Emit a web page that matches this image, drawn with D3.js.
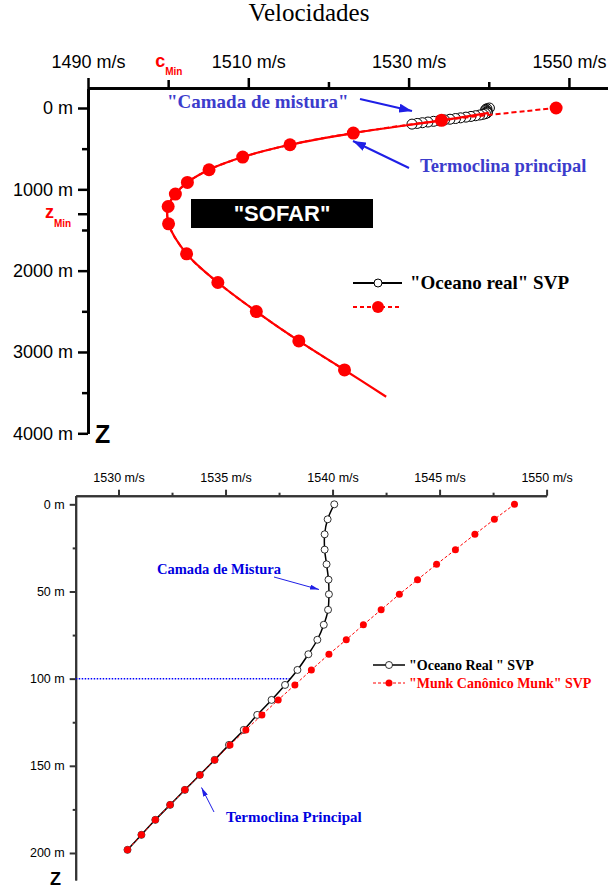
<!DOCTYPE html>
<html lang="pt">
<head>
<meta charset="utf-8">
<script src="https://d3js.org/d3.v7.min.js"></script>
<title>Velocidades</title>
<style>
  body { margin: 0; background: #fff; }
  .ax text { font-family: "Liberation Sans", Arial, sans-serif; fill: #000; }
</style>
</head>
<body>
<script>

// ---- top chart (0 - 4000 m) ----
var topMunkDepth = [0, 152, 308, 452, 603, 759, 915, 1058, 1211, 1424, 1793, 2146, 2503, 2864, 3221];
var topMunkSpeed = [1548.4, 1534.1, 1523.1, 1515.2, 1509.3, 1505.1, 1502.4, 1500.9, 1500.0, 1500.05, 1502.3, 1506.2, 1511.0, 1516.3, 1522.0];
// solid red profile
var munkCurveDepth = [60, 152, 308, 452, 603, 759, 915, 1058, 1211, 1424, 1793, 2146, 2503, 2864, 3221, 3550];
var munkCurveSpeed = [1540.0, 1534.1, 1523.1, 1515.2, 1509.3, 1505.1, 1502.4, 1500.9, 1500.0, 1500.05, 1502.3, 1506.2, 1511.0, 1516.3, 1522.0, 1527.2];

var topSpeedTicks = [1490, 1510, 1530, 1550];
var topSpeedMinor = [1520, 1540];
var topDepthTicks = [0, 1000, 2000, 3000, 4000];
var topDepthMinor = [500, 1500, 2500, 3500];
var cMin = 1500;
var zMin = 1300;

// ---- bottom chart (0 - 200 m) ----
var shallowDepth = [0, 8.6, 17.2, 26, 34.4, 43.2, 51.6, 60.5, 69.1, 77.7, 86, 95, 103.6, 112.2, 120.8, 129.4, 138, 146.6, 155.2, 163.8, 172.4, 181, 189.6, 198.2];
var realSpeed = [1540.08, 1539.77, 1539.63, 1539.63, 1539.72, 1539.81, 1539.83, 1539.79, 1539.59, 1539.29, 1538.87, 1538.36, 1537.78, 1537.15, 1536.48, 1535.85, 1535.16, 1534.49, 1533.80, 1533.10, 1532.41, 1531.72, 1531.07, 1530.42];
var munkSpeed = [1548.5, 1547.56, 1546.65, 1545.74, 1544.86, 1543.97, 1543.12, 1542.27, 1541.44, 1540.64, 1539.83, 1539.01, 1538.24, 1537.46, 1536.70, 1535.95, 1535.21, 1534.49, 1533.80, 1533.10, 1532.41, 1531.72, 1531.07, 1530.42];

var botSpeedTicks = [1530, 1535, 1540, 1545, 1550];
var botSpeedMinor = [1532.5, 1537.5, 1542.5, 1547.5];
var botDepthTicks = [0, 50, 100, 150, 200];
var botDepthMinor = [25, 75, 125, 175];
var mixedLayerDepth = 100;
var mixedLayerSpeed = 1538.0;

var svg = d3.select("body").append("svg")
  .attr("width", 608)
  .attr("height", 891);

var defs = svg.append("defs");
function arrowHead(id, color, len, wid) {
  defs.append("marker")
    .attr("id", id)
    .attr("markerUnits", "userSpaceOnUse")
    .attr("markerWidth", len).attr("markerHeight", wid)
    .attr("refX", len).attr("refY", wid / 2)
    .attr("orient", "auto")
    .append("path")
    .attr("d", "M0,0L" + len + "," + (wid / 2) + "L0," + wid + "Z")
    .attr("fill", color);
}
arrowHead("arrBig", "#1f1fe6", 13, 9);
arrowHead("arrSmall", "#1f1fe6", 9, 5);

var serif = "'Liberation Serif', 'Times New Roman', serif";
var sans = "'Liberation Sans', Arial, sans-serif";

svg.append("text")
  .attr("x", 309).attr("y", 21)
  .attr("text-anchor", "middle")
  .attr("font-family", serif)
  .attr("font-size", 25)
  .text("Velocidades");

// ================= TOP CHART =================
var x1 = d3.scaleLinear().domain([1490, 1555]).range([88, 609]);
var y1 = d3.scaleLinear().domain([-246, 4000]).range([88, 433.3]);

function styleAxis(g, w, color) {
  g.attr("class", "ax");
  g.select(".domain").attr("stroke", color).attr("stroke-width", w);
  g.selectAll(".tick line").attr("stroke", color).attr("stroke-width", w);
}

var gx1 = svg.append("g").attr("transform", "translate(0,88)")
  .call(d3.axisTop(x1).tickValues(topSpeedTicks).tickSize(10).tickSizeOuter(0)
    .tickPadding(10).tickFormat(function (d) { return d + " m/s"; }));
styleAxis(gx1, 2.5, "#000");
gx1.selectAll("text").attr("font-size", 18);

var gx1m = svg.append("g").attr("transform", "translate(0,88)")
  .call(d3.axisTop(x1).tickValues(topSpeedMinor).tickSize(6).tickSizeOuter(0).tickFormat(""));
styleAxis(gx1m, 2.5, "#000");
var gx1c = svg.append("g").attr("transform", "translate(0,88)")
  .call(d3.axisTop(x1).tickValues([cMin]).tickSize(8).tickSizeOuter(0).tickFormat(""));
styleAxis(gx1c, 2.5, "#000");

var gy1 = svg.append("g").attr("transform", "translate(88,0)")
  .call(d3.axisLeft(y1).tickValues(topDepthTicks).tickSize(10).tickSizeOuter(0)
    .tickPadding(5).tickFormat(function (d) { return d + " m"; }));
styleAxis(gy1, 2.5, "#000");
gy1.selectAll("text").attr("font-size", 18);
var gy1m = svg.append("g").attr("transform", "translate(88,0)")
  .call(d3.axisLeft(y1).tickValues(topDepthMinor).tickSize(6).tickSizeOuter(0).tickFormat(""));
styleAxis(gy1m, 2.5, "#000");
var gy1z = svg.append("g").attr("transform", "translate(88,0)")
  .call(d3.axisLeft(y1).tickValues([zMin]).tickSize(10).tickSizeOuter(0).tickFormat(""));
styleAxis(gy1z, 2.5, "#000");

// c_Min / z_Min labels
var cLab = svg.append("text").attr("x", x1(cMin) - 13).attr("y", 67)
  .attr("font-family", sans).attr("font-weight", "bold").attr("fill", "#ff0000");
cLab.append("tspan").attr("font-size", 18).text("c");
cLab.append("tspan").attr("font-size", 10).attr("dy", 8).text("Min");
var zLab = svg.append("text").attr("x", 45).attr("y", y1(zMin) + 4)
  .attr("font-family", sans).attr("font-weight", "bold").attr("fill", "#ff0000");
zLab.append("tspan").attr("font-size", 18).text("z");
zLab.append("tspan").attr("font-size", 10).attr("dy", 9).text("Min");

svg.append("text").attr("x", 95).attr("y", 443)
  .attr("font-family", sans).attr("font-weight", "bold").attr("font-size", 25).text("Z");

// black "real ocean" points on the full-depth scale
var realPts = shallowDepth.map(function (z, i) { return [realSpeed[i], z]; });
var munkPts = shallowDepth.map(function (z, i) { return [munkSpeed[i], z]; });

var line1 = d3.line().x(function (d) { return x1(d[0]); }).y(function (d) { return y1(d[1]); });

svg.append("path").datum(realPts).attr("d", line1.curve(d3.curveLinear))
  .attr("fill", "none").attr("stroke", "#000").attr("stroke-width", 1.5);
svg.selectAll(".realTop").data(realPts).enter().append("circle")
  .attr("cx", function (d) { return x1(d[0]); })
  .attr("cy", function (d) { return y1(d[1]); })
  .attr("r", 5).attr("fill", "#fff").attr("stroke", "#000").attr("stroke-width", 1);

var topMarkers = topMunkDepth.map(function (z, i) { return [topMunkSpeed[i], z]; });
var topCurve = munkCurveDepth.map(function (z, i) { return [munkCurveSpeed[i], z]; });

svg.append("path").datum(topMarkers).attr("d", line1.curve(d3.curveCatmullRom))
  .attr("fill", "none").attr("stroke", "#ff0000").attr("stroke-width", 2).attr("stroke-dasharray", "5,3");
svg.append("path").datum(topCurve).attr("d", line1.curve(d3.curveCatmullRom))
  .attr("fill", "none").attr("stroke", "#ff0000").attr("stroke-width", 2.2);
svg.selectAll(".munkTop").data(topMarkers).enter().append("circle")
  .attr("cx", function (d) { return x1(d[0]); })
  .attr("cy", function (d) { return y1(d[1]); })
  .attr("r", 6.5).attr("fill", "#ff0000");

// SOFAR box
svg.append("rect").attr("x", 191).attr("y", 199).attr("width", 182).attr("height", 29).attr("fill", "#000");
svg.append("text").attr("x", 282).attr("y", 221).attr("text-anchor", "middle")
  .attr("font-family", sans).attr("font-weight", "bold").attr("font-size", 22)
  .attr("fill", "#fff").text("\"SOFAR\"");

// annotations
svg.append("text").attr("x", 167).attr("y", 108).attr("font-family", serif)
  .attr("font-weight", "bold").attr("font-size", 19).attr("fill", "#3c3ccc")
  .text("\"Camada de mistura\"");
svg.append("line").attr("x1", 360).attr("y1", 99).attr("x2", 412).attr("y2", 111)
  .attr("stroke", "#1f1fe6").attr("stroke-width", 2).attr("marker-end", "url(#arrBig)");
svg.append("text").attr("x", 420).attr("y", 172).attr("font-family", serif)
  .attr("font-weight", "bold").attr("font-size", 18.5).attr("fill", "#3c3ccc")
  .text("Termoclina principal");
svg.append("line").attr("x1", 409).attr("y1", 168).attr("x2", 353).attr("y2", 141)
  .attr("stroke", "#1f1fe6").attr("stroke-width", 2).attr("marker-end", "url(#arrBig)");

// top legend
var lg1 = svg.append("g");
lg1.append("line").attr("x1", 353).attr("x2", 402).attr("y1", 283).attr("y2", 283)
  .attr("stroke", "#000").attr("stroke-width", 2);
lg1.append("circle").attr("cx", 378).attr("cy", 283).attr("r", 4)
  .attr("fill", "#fff").attr("stroke", "#000").attr("stroke-width", 1);
lg1.append("text").attr("x", 410).attr("y", 289).attr("font-family", serif)
  .attr("font-weight", "bold").attr("font-size", 19).text("\"Oceano real\" SVP");
lg1.append("line").attr("x1", 353).attr("x2", 402).attr("y1", 307).attr("y2", 307)
  .attr("stroke", "#ff0000").attr("stroke-width", 2).attr("stroke-dasharray", "4,3");
lg1.append("circle").attr("cx", 378).attr("cy", 307).attr("r", 6).attr("fill", "#ff0000");

// ================= BOTTOM CHART =================
var x2 = d3.scaleLinear().domain([1528, 1550]).range([75.7, 546.6]);
var y2 = d3.scaleLinear().domain([-5, 215.5]).range([495.6, 880]);

var gx2 = svg.append("g").attr("transform", "translate(0,495.7)")
  .call(d3.axisTop(x2).tickValues(botSpeedTicks).tickSize(6).tickSizeOuter(0)
    .tickPadding(8).tickFormat(function (d) { return d + " m/s"; }));
styleAxis(gx2, 2, "#333");
gx2.selectAll("text").attr("font-size", 12.5);
var gx2m = svg.append("g").attr("transform", "translate(0,495.7)")
  .call(d3.axisTop(x2).tickValues(botSpeedMinor).tickSize(3).tickSizeOuter(0).tickFormat(""));
styleAxis(gx2m, 2, "#333");

var gy2 = svg.append("g").attr("transform", "translate(75.7,0)")
  .call(d3.axisLeft(y2).tickValues(botDepthTicks).tickSize(6).tickSizeOuter(0)
    .tickPadding(5).tickFormat(function (d) { return d + " m"; }));
styleAxis(gy2, 2, "#333");
gy2.selectAll("text").attr("font-size", 12.5);
var gy2m = svg.append("g").attr("transform", "translate(75.7,0)")
  .call(d3.axisLeft(y2).tickValues(botDepthMinor).tickSize(3).tickSizeOuter(0).tickFormat(""));
styleAxis(gy2m, 2, "#333");

svg.append("text").attr("x", 50).attr("y", 885)
  .attr("font-family", sans).attr("font-weight", "bold").attr("font-size", 18).text("Z");

// dotted 100 m line
svg.append("line").attr("x1", x2(1528)).attr("x2", x2(mixedLayerSpeed))
  .attr("y1", y2(mixedLayerDepth)).attr("y2", y2(mixedLayerDepth))
  .attr("stroke", "#0000ff").attr("stroke-width", 1.5).attr("stroke-dasharray", "1.5,1.5");

var line2 = d3.line().x(function (d) { return x2(d[0]); }).y(function (d) { return y2(d[1]); });

svg.append("path").datum(realPts).attr("d", line2.curve(d3.curveCatmullRom))
  .attr("fill", "none").attr("stroke", "#000").attr("stroke-width", 1.5);
svg.selectAll(".realBot").data(realPts).enter().append("circle")
  .attr("cx", function (d) { return x2(d[0]); })
  .attr("cy", function (d) { return y2(d[1]); })
  .attr("r", 3.5).attr("fill", "#fff").attr("stroke", "#000").attr("stroke-width", 0.8);

svg.append("path").datum(munkPts).attr("d", line2.curve(d3.curveLinear))
  .attr("fill", "none").attr("stroke", "#ff0000").attr("stroke-width", 1).attr("stroke-dasharray", "3,2");
svg.selectAll(".munkBot").data(munkPts).enter().append("circle")
  .attr("cx", function (d) { return x2(d[0]); })
  .attr("cy", function (d) { return y2(d[1]); })
  .attr("r", 3.5).attr("fill", "#ff0000");

// annotations
svg.append("text").attr("x", 157).attr("y", 574).attr("font-family", serif)
  .attr("font-weight", "bold").attr("font-size", 14.5).attr("fill", "#0000e0")
  .text("Camada de Mistura");
svg.append("line").attr("x1", 274).attr("y1", 577).attr("x2", 319).attr("y2", 589.5)
  .attr("stroke", "#1f1fe6").attr("stroke-width", 1).attr("marker-end", "url(#arrSmall)");
svg.append("text").attr("x", 226).attr("y", 822).attr("font-family", serif)
  .attr("font-weight", "bold").attr("font-size", 15).attr("fill", "#0000e0")
  .text("Termoclina Principal");
svg.append("line").attr("x1", 214).attr("y1", 812).attr("x2", 201.5).attr("y2", 787.5)
  .attr("stroke", "#1f1fe6").attr("stroke-width", 1).attr("marker-end", "url(#arrSmall)");

// bottom legend
var lg2 = svg.append("g");
lg2.append("line").attr("x1", 373).attr("x2", 405).attr("y1", 665).attr("y2", 665)
  .attr("stroke", "#000").attr("stroke-width", 1.5);
lg2.append("circle").attr("cx", 389).attr("cy", 665).attr("r", 3.5)
  .attr("fill", "#fff").attr("stroke", "#000").attr("stroke-width", 0.8);
lg2.append("text").attr("x", 409).attr("y", 670).attr("font-family", serif)
  .attr("font-weight", "bold").attr("font-size", 14).text("\"Oceano Real \" SVP");
lg2.append("line").attr("x1", 373).attr("x2", 405).attr("y1", 683).attr("y2", 683)
  .attr("stroke", "#ff0000").attr("stroke-width", 1).attr("stroke-dasharray", "3,2");
lg2.append("circle").attr("cx", 389).attr("cy", 683).attr("r", 3.5).attr("fill", "#ff0000");
lg2.append("text").attr("x", 409).attr("y", 688).attr("font-family", serif)
  .attr("font-weight", "bold").attr("font-size", 14).attr("fill", "#ff0000")
  .text("\"Munk Canônico Munk\" SVP");

</script>
</body>
</html>
